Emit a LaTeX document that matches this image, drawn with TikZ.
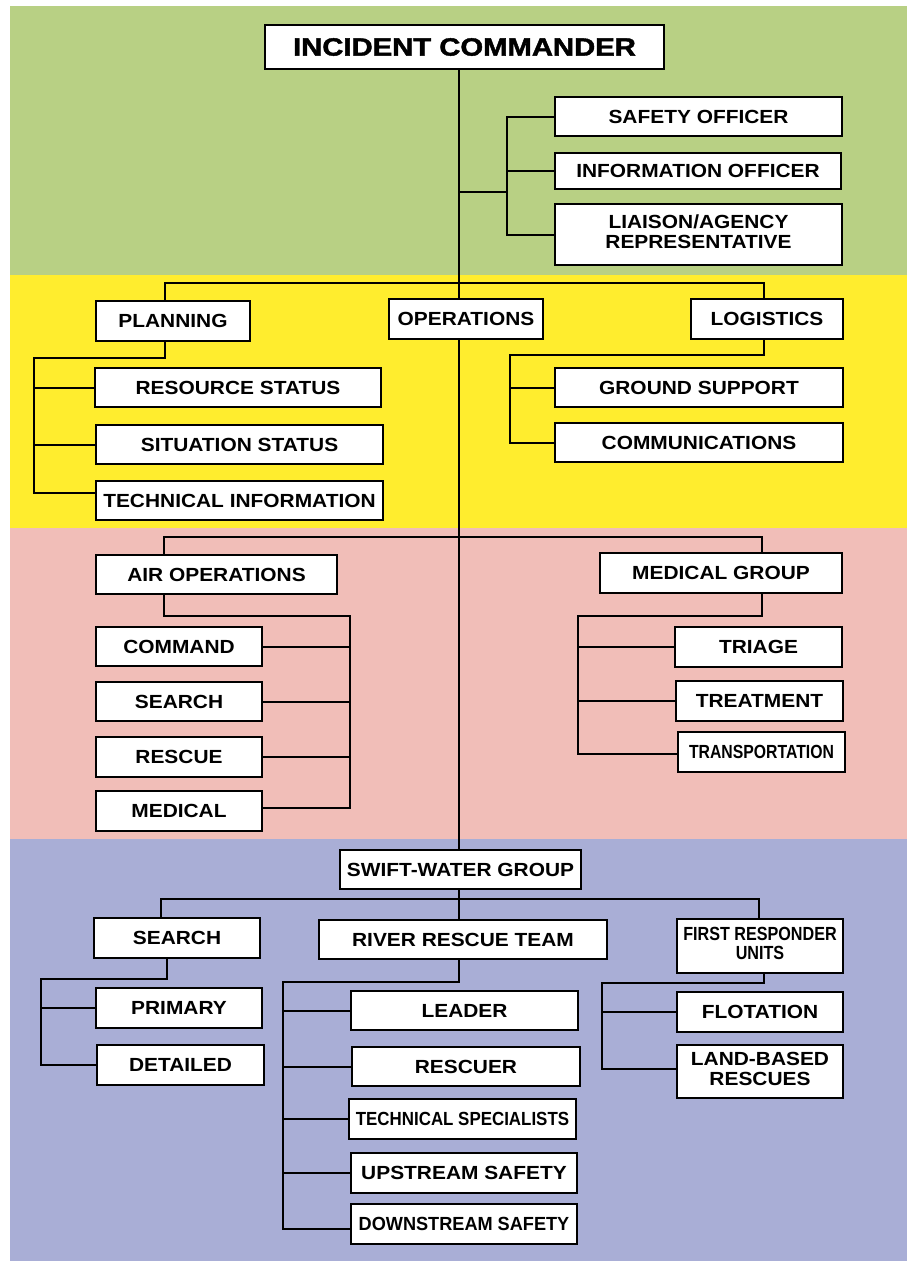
\documentclass[tikz,border=0pt]{standalone}
\usepackage{fontspec}
\setmainfont{Liberation Sans}
\newfontfamily\lblfont{Liberation Sans}
\newfontfamily\icfont{Liberation Sans Bold}[FakeBold=1.6]
\usepackage{graphicx}
\definecolor{bandgreen}{RGB}{184,208,132}
\definecolor{bandyellow}{RGB}{255,237,46}
\definecolor{bandpink}{RGB}{241,190,184}
\definecolor{bandblue}{RGB}{169,174,214}
\tikzset{
  box/.style={draw=black, line width=1.8pt, fill=white, inner sep=0pt,
    font=\lblfont\bfseries\fontsize{19}{20}\selectfont},
  conn/.style={draw=black, line width=2pt},
}
\newcommand\bx[7]{\node[box, minimum width={#4-#2}, minimum height={#5-#3}] (#1) at ({(#2+#4)/2},{(#3+#5)/2}) {\scalebox{#6}[1]{#7}};}
\begin{document}
\begin{tikzpicture}[x=1pt,y=-1pt]
\useasboundingbox (0,0) rectangle (909,1263);
% bands
\fill[white] (0,0) rectangle (909,1263);
\fill[bandgreen] (10,6) rectangle (907,275);
\fill[bandyellow] (10,275) rectangle (907,528);
\fill[bandpink] (10,528) rectangle (907,839);
\fill[bandblue] (10,839) rectangle (907,1261);
% nodes
\node[box, minimum width=399, minimum height=44, font=\icfont\fontsize{25}{26}\selectfont] (ic) at (464.5,47) {\scalebox{1.17}[1]{INCIDENT COMMANDER}};
\bx{safety}{555}{97}{842}{136}{1.1}{SAFETY OFFICER}
\bx{info}{555}{153}{841}{189}{1.1}{INFORMATION OFFICER}
\bx{liaison}{555}{204}{842}{265}{1.1}{\begin{tabular}{@{}c@{}}LIAISON/AGENCY\\REPRESENTATIVE\end{tabular}}
\bx{planning}{96}{301}{250}{341}{1.1}{PLANNING}
\bx{ops}{389}{299}{543}{339}{1.1}{OPERATIONS}
\bx{logistics}{691}{299}{843}{339}{1.1}{LOGISTICS}
\bx{resource}{95}{368}{381}{407}{1.1}{RESOURCE STATUS}
\bx{situation}{96}{425}{383}{464}{1.1}{SITUATION STATUS}
\bx{techinfo}{96}{481}{383}{520}{1.1}{TECHNICAL INFORMATION}
\bx{ground}{555}{368}{843}{407}{1.1}{GROUND SUPPORT}
\bx{comms}{555}{423}{843}{462}{1.1}{COMMUNICATIONS}
\bx{airops}{96}{555}{337}{594}{1.1}{AIR OPERATIONS}
\bx{medgroup}{600}{553}{842}{593}{1.1}{MEDICAL GROUP}
\bx{command}{96}{627}{262}{666}{1.1}{COMMAND}
\bx{searcha}{96}{682}{262}{721}{1.1}{SEARCH}
\bx{rescuea}{96}{737}{262}{777}{1.1}{RESCUE}
\bx{medicala}{96}{791}{262}{831}{1.1}{MEDICAL}
\bx{triage}{675}{627}{842}{667}{1.1}{TRIAGE}
\bx{treatment}{676}{681}{843}{721}{1.1}{TREATMENT}
\bx{transport}{678}{732}{845}{772}{0.83}{TRANSPORTATION}
\bx{swift}{340}{850}{581}{889}{1.1}{SWIFT-WATER GROUP}
\bx{searchb}{94}{918}{260}{958}{1.1}{SEARCH}
\bx{river}{319}{920}{607}{959}{1.1}{RIVER RESCUE TEAM}
\bx{firstresp}{677}{919}{843}{973}{0.85}{\fontsize{19}{18}\selectfont\begin{tabular}{@{}c@{}}FIRST RESPONDER\\UNITS\end{tabular}}
\bx{primary}{96}{988}{262}{1028}{1.1}{PRIMARY}
\bx{detailed}{97}{1045}{264}{1085}{1.1}{DETAILED}
\bx{leader}{351}{991}{578}{1030}{1.1}{LEADER}
\bx{rescuer}{352}{1047}{580}{1086}{1.1}{RESCUER}
\bx{techspec}{349}{1099}{576}{1139}{0.89}{TECHNICAL SPECIALISTS}
\bx{upstream}{351}{1153}{577}{1193}{1.1}{UPSTREAM SAFETY}
\bx{downstream}{351}{1204}{577}{1244}{0.955}{DOWNSTREAM SAFETY}
\bx{flotation}{677}{992}{843}{1032}{1.1}{FLOTATION}
\bx{landbased}{677}{1045}{843}{1098}{1.1}{\begin{tabular}{@{}c@{}}LAND-BASED\\RESCUES\end{tabular}}
% helper coordinates
\coordinate (tr) at (459,0);
\coordinate (sb) at (507,192);
\coordinate (yL) at (165,283);
\coordinate (yR) at (764,283);
\coordinate (pb) at (34,358);
\coordinate (pbe) at (34,493);
\coordinate (lb) at (510,355);
\coordinate (pL) at (164,537);
\coordinate (pR) at (762,537);
\coordinate (ab) at (350,616);
\coordinate (abe) at (350,808);
\coordinate (mb) at (578,616);
\coordinate (mbe) at (578,754);
\coordinate (bL) at (161,899);
\coordinate (bR) at (759,899);
\coordinate (sx) at (167,0);
\coordinate (sbb) at (41,979);
\coordinate (rb) at (283,982);
\coordinate (rbe) at (283,1229);
\coordinate (fx) at (764,0);
\coordinate (fb) at (602,983);
\coordinate (fbe) at (602,1069);
% connectors
\draw[conn] (ic.south -| tr) -- (ops.north -| tr);
\draw[conn] (ops.south -| tr) -- (swift.north -| tr);
\draw[conn] (swift.south -| tr) -- (river.north -| tr);
\draw[conn] (sb -| tr) -- (sb);
\draw[conn] (safety.west) -| (sb);
\draw[conn] (liaison.west) -| (sb);
\draw[conn] (info.west) -- (info.west -| sb);
\draw[conn] (planning.north -| yL) -- (yL) -- (yR) -- (logistics.north -| yR);
\draw[conn] (planning.south -| yL) |- (pb) -- (pbe) -- (techinfo.west |- pbe);
\draw[conn] (resource.west) -- (resource.west -| pb);
\draw[conn] (situation.west) -- (situation.west -| pb);
\draw[conn] (logistics.south -| yR) |- (lb) |- (comms.west);
\draw[conn] (ground.west) -- (ground.west -| lb);
\draw[conn] (airops.north -| pL) -- (pL) -- (pR) -- (medgroup.north -| pR);
\draw[conn] (airops.south -| pL) |- (ab) -- (abe) -- (medicala.east |- abe);
\draw[conn] (command.east) -- (command.east -| ab);
\draw[conn] (searcha.east) -- (searcha.east -| ab);
\draw[conn] (rescuea.east) -- (rescuea.east -| ab);
\draw[conn] (medgroup.south -| pR) |- (mb) -- (mbe) -- (transport.west |- mbe);
\draw[conn] (triage.west) -- (triage.west -| mb);
\draw[conn] (treatment.west) -- (treatment.west -| mb);
\draw[conn] (searchb.north -| bL) -- (bL) -- (bR) -- (firstresp.north -| bR);
\draw[conn] (searchb.south -| sx) |- (sbb) |- (detailed.west);
\draw[conn] (primary.west) -- (primary.west -| sbb);
\draw[conn] (river.south -| tr) |- (rb) -- (rbe) -- (downstream.west |- rbe);
\draw[conn] (leader.west) -- (leader.west -| rb);
\draw[conn] (rescuer.west) -- (rescuer.west -| rb);
\draw[conn] (techspec.west) -- (techspec.west -| rb);
\draw[conn] (upstream.west) -- (upstream.west -| rb);
\draw[conn] (firstresp.south -| fx) |- (fb) -- (fbe) -- (landbased.west |- fbe);
\draw[conn] (flotation.west) -- (flotation.west -| fb);
\end{tikzpicture}
\end{document}
